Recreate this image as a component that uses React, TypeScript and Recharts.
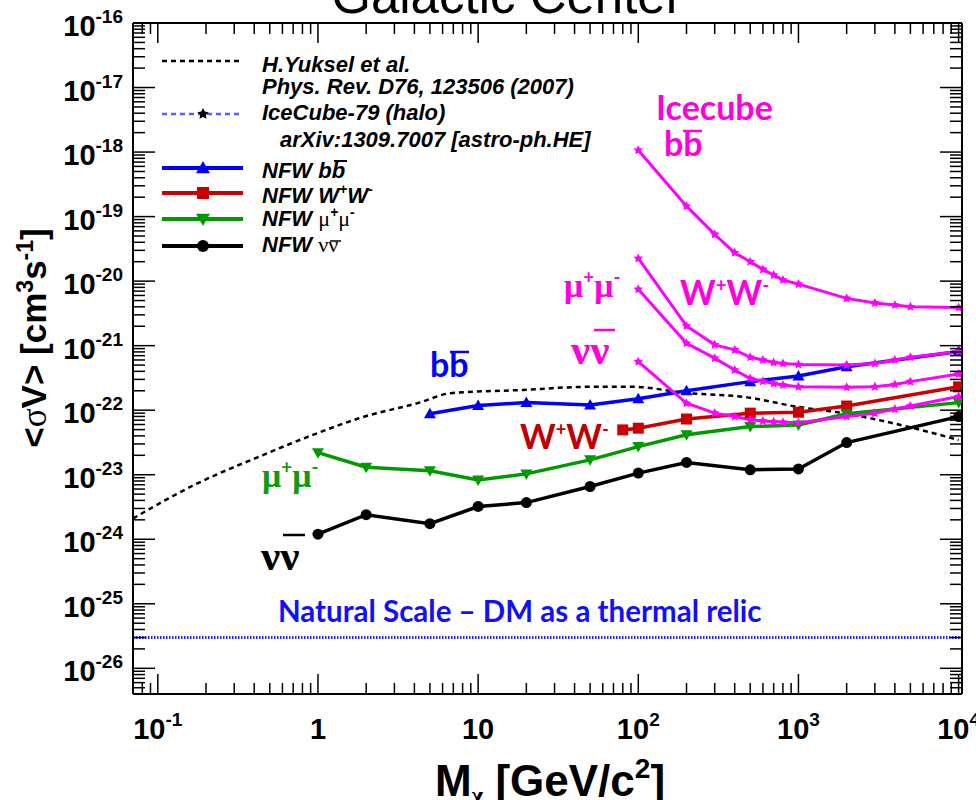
import React from "react";
import { LineChart, Line, XAxis, YAxis, ReferenceLine, Legend } from "recharts";

// dark matter mass (GeV/c^2) and <sigma v> upper limits (cm^3 s^-1)
const nfwBbMass = [5, 10, 20, 50, 100, 200, 500, 1000, 2000, 10000];
const nfwBbSigma = [8.8e-23, 1.18e-22, 1.31e-22, 1.2e-22, 1.5e-22, 2.0e-22, 2.77e-22, 3.4e-22, 4.7e-22, 8.1e-22];

const nfwWwMass = [80, 100, 200, 500, 1000, 2000, 10000];
const nfwWwSigma = [4.95e-23, 5.26e-23, 7.3e-23, 9.0e-23, 9.3e-23, 1.16e-22, 2.3e-22];

const nfwMuMass = [1, 2, 5, 10, 20, 50, 100, 200, 500, 1000, 2000, 10000];
const nfwMuSigma = [2.2e-23, 1.31e-23, 1.15e-23, 8.3e-24, 1.03e-23, 1.7e-23, 2.73e-23, 4.15e-23, 5.57e-23, 5.9e-23, 8.8e-23, 1.31e-22];

const nfwNuMass = [1, 2, 5, 10, 20, 50, 100, 200, 500, 1000, 2000, 10000];
const nfwNuSigma = [1.2e-24, 2.4e-24, 1.74e-24, 3.22e-24, 3.7e-24, 6.57e-24, 1.06e-23, 1.55e-23, 1.19e-23, 1.23e-23, 3.15e-23, 7.96e-23];

// IceCube-79 halo limits
const icMass = [100, 200, 300, 400, 500, 600, 700, 800, 1000, 2000, 3000, 4000, 5000, 10000];
const icBbSigma = [1.07e-18, 1.45e-19, 5.3e-20, 2.75e-20, 2.0e-20, 1.52e-20, 1.24e-20, 1.04e-20, 9.0e-21, 5.4e-21, 4.6e-21, 4.27e-21, 4.0e-21, 3.9e-21];
const icWwSigma = [2.25e-20, 2.02e-21, 1.03e-21, 8.6e-22, 6.6e-22, 6.0e-22, 5.5e-22, 5.3e-22, 5.1e-22, 5.0e-22, 5.3e-22, 6.0e-22, 6.6e-22, 8.1e-22];
const icMuSigma = [7.5e-21, 1.09e-21, 6.4e-22, 4.2e-22, 3.1e-22, 2.8e-22, 2.6e-22, 2.45e-22, 2.3e-22, 2.27e-22, 2.3e-22, 2.5e-22, 2.77e-22, 3.65e-22];
const icNuSigma = [5.65e-22, 1.28e-22, 9.0e-23, 7.96e-23, 7.1e-23, 6.8e-23, 6.6e-23, 6.5e-23, 6.4e-23, 8.0e-23, 9.0e-23, 1.04e-22, 1.16e-22, 1.63e-22];

// H. Yuksel et al. (2007)
const yukselMass = [0.07, 0.17, 0.45, 0.93, 1.9, 4.3, 6.7, 19, 48, 94, 190, 480, 960, 1900, 5800, 10000];
const yukselSigma = [2.1e-24, 7.0e-24, 2.0e-23, 4.15e-23, 7.8e-23, 1.31e-22, 1.83e-22, 2.06e-22, 2.3e-22, 2.3e-22, 1.87e-22, 1.58e-22, 1.14e-22, 9.0e-23, 4.95e-23, 3.45e-23];

// thermal relic cross section
const RELIC_SIGMA_V = 3e-26;

const xLabelValues = [0.1, 1, 10, 100, 1000, 10000];
const xLabelBase = ["10", "1", "10", "10", "10", "10"];
const xLabelExp = ["-1", "", "", "2", "3", "4"];

const yLabelValues = [1e-26, 1e-25, 1e-24, 1e-23, 1e-22, 1e-21, 1e-20, 1e-19, 1e-18, 1e-17, 1e-16];
const yLabelExp = ["-26", "-25", "-24", "-23", "-22", "-21", "-20", "-19", "-18", "-17", "-16"];

const X_DOMAIN: [number, number] = [0.07, 10500];
const Y_DOMAIN: [number, number] = [4e-27, 1e-16];

const FONT = "'Liberation Sans', Arial, Helvetica, sans-serif";
const NOTE_FONT = "Lato, 'Open Sans', sans-serif";
const GREEK = "'Liberation Serif', 'DejaVu Serif', serif";

const BLUE = "#0000ff";
const RED = "#cc0000";
const GREEN = "#009900";
const MAGENTA = "#ff00ff";

// log axis ticks: decades plus 2..9 sub-divisions
function logTicks(lo: number, hi: number) {
  const out: number[] = [];
  for (let d = Math.floor(Math.log10(lo)); d <= Math.ceil(Math.log10(hi)); d++) {
    for (let k = 1; k <= 9; k++) {
      const v = k * Math.pow(10, d);
      if (v >= lo * 0.999 && v <= hi * 1.001) out.push(v);
    }
  }
  return out;
}
const xTicks = logTicks(X_DOMAIN[0], X_DOMAIN[1]);
const yTicks = logTicks(5e-27, 1e-16);

const isDecade = (v: number) => {
  const l = Math.log10(v);
  return Math.abs(l - Math.round(l)) < 1e-6;
};

const points = (mass: number[], sigma: number[]) => mass.map((m, i) => ({ m, v: sigma[i] }));

type TickProps = { x?: number; y?: number; payload?: { value: number } };

const X_MAJOR = 20;
const X_MINOR = 11;
const Y_MAJOR = 22;
const Y_MINOR = 12;
const LABEL_SIZE = 29;
const EXP_SIZE = 19;

function BottomTick({ x = 0, y = 0, payload }: TickProps) {
  const v = payload ? payload.value : 1;
  const major = isDecade(v);
  const i = xLabelValues.findIndex((t) => Math.abs(Math.log10(t) - Math.log10(v)) < 1e-6);
  return (
    <g>
      <line x1={x} x2={x} y1={y} y2={y - (major ? X_MAJOR : X_MINOR)} stroke="#000" strokeWidth={1.5} />
      {i >= 0 && (
        <text x={x} y={y + 45} textAnchor="middle" fontFamily={FONT} fontWeight="bold" fontSize={LABEL_SIZE} fill="#000">
          {xLabelBase[i]}
          {xLabelExp[i] && (
            <tspan dy={-13} fontSize={EXP_SIZE}>
              {xLabelExp[i]}
            </tspan>
          )}
        </text>
      )}
    </g>
  );
}

function TopTick({ x = 0, y = 0, payload }: TickProps) {
  const major = isDecade(payload ? payload.value : 1);
  return <line x1={x} x2={x} y1={y} y2={y + (major ? X_MAJOR : X_MINOR)} stroke="#000" strokeWidth={1.5} />;
}

function LeftTick({ x = 0, y = 0, payload }: TickProps) {
  const v = payload ? payload.value : 1;
  const major = isDecade(v);
  const i = yLabelValues.findIndex((t) => Math.abs(Math.log10(t) - Math.log10(v)) < 1e-6);
  return (
    <g>
      <line x1={x} x2={x + (major ? Y_MAJOR : Y_MINOR)} y1={y} y2={y} stroke="#000" strokeWidth={1.5} />
      {i >= 0 && (
        <text x={x - 10} y={y + 13} textAnchor="end" fontFamily={FONT} fontWeight="bold" fontSize={LABEL_SIZE} fill="#000">
          10
          <tspan dy={-13} fontSize={EXP_SIZE}>
            {yLabelExp[i]}
          </tspan>
        </text>
      )}
    </g>
  );
}

function RightTick({ x = 0, y = 0, payload }: TickProps) {
  const major = isDecade(payload ? payload.value : 1);
  return <line x1={x} x2={x - (major ? Y_MAJOR : Y_MINOR)} y1={y} y2={y} stroke="#000" strokeWidth={1.5} />;
}

type Shape = "triUp" | "triDown" | "square" | "circle" | "star";

function markerPath(shape: Shape, cx: number, cy: number, s: number) {
  switch (shape) {
    case "triUp":
      return `M${cx},${cy - s}L${cx + s},${cy + s * 0.75}L${cx - s},${cy + s * 0.75}Z`;
    case "triDown":
      return `M${cx},${cy + s}L${cx + s},${cy - s * 0.75}L${cx - s},${cy - s * 0.75}Z`;
    case "square":
      return `M${cx - s},${cy - s}h${2 * s}v${2 * s}h${-2 * s}Z`;
    case "star": {
      let d = "";
      for (let k = 0; k < 10; k++) {
        const r = k % 2 === 0 ? s : s * 0.5;
        const a = -Math.PI / 2 + (k * Math.PI) / 5;
        d += `${k === 0 ? "M" : "L"}${cx + r * Math.cos(a)},${cy + r * Math.sin(a)}`;
      }
      return d + "Z";
    }
    default:
      return `M${cx - s},${cy}a${s},${s} 0 1,0 ${2 * s},0a${s},${s} 0 1,0 ${-2 * s},0`;
  }
}

function Marker({ shape, cx, cy, s, color }: { shape: Shape; cx: number; cy: number; s: number; color: string }) {
  return <path d={markerPath(shape, cx, cy, s)} fill={color} stroke="none" />;
}

const dotOf = (shape: Shape, color: string, s: number) => (p: { cx?: number; cy?: number; index?: number }) =>
  p.cx == null || p.cy == null ? (
    <g key={`e-${p.index}`} />
  ) : (
    <Marker key={`d-${p.index}`} shape={shape} cx={p.cx} cy={p.cy} s={s} color={color} />
  );

// bar drawn over a glyph (b-bar, nu-bar)
function Bar({ x1, x2, y, color, w = 2.5 }: { x1: number; x2: number; y: number; color: string; w?: number }) {
  return <line x1={x1} x2={x2} y1={y} y2={y} stroke={color} strokeWidth={w} />;
}

function LegendBox() {
  const x0 = 162;
  const x1 = 243;
  const xm = 203;
  const tx = 262;
  const greek = { fontFamily: GREEK, fontStyle: "normal", fontWeight: "normal" } as const;
  return (
    <svg width={660} height={270} style={{ display: "block" }}>
      <g fontFamily={FONT} fontWeight="bold" fontStyle="italic" fontSize={22} fill="#000">
        <line x1={x0} x2={x1} y1={61} y2={61} stroke="#000" strokeWidth={2.5} strokeDasharray="5 4" />
        <text x={tx} y={72}>H.Yuksel et al.</text>
        <text x={tx} y={94}>Phys. Rev. D76, 123506 (2007)</text>

        <line x1={x0} x2={x1} y1={114} y2={114} stroke="#5b5bff" strokeWidth={2.5} strokeDasharray="5 4" />
        <Marker shape="star" cx={xm} cy={114} s={6} color="#000" />
        <text x={tx} y={120}>IceCube-79 (halo)</text>
        <text x={280} y={147}>arXiv:1309.7007 [astro-ph.HE]</text>

        <line x1={x0} x2={x1} y1={168} y2={168} stroke={BLUE} strokeWidth={4} />
        <Marker shape="triUp" cx={xm} cy={168} s={7} color={BLUE} />
        <text x={tx} y={178}>NFW bb</text>
        <Bar x1={334} x2={347} y={161} color="#000" w={2} />

        <line x1={x0} x2={x1} y1={193} y2={193} stroke={RED} strokeWidth={4} />
        <Marker shape="square" cx={xm} cy={193} s={6} color={RED} />
        <text x={tx} y={203}>
          NFW W
          <tspan dy={-9} fontSize={14}>
            +
          </tspan>
          <tspan dy={9}>W</tspan>
          <tspan dy={-9} fontSize={14}>
            -
          </tspan>
        </text>

        <line x1={x0} x2={x1} y1={219} y2={219} stroke={GREEN} strokeWidth={4} />
        <Marker shape="triDown" cx={xm} cy={219} s={7} color={GREEN} />
        <text x={tx} y={226}>
          NFW <tspan {...greek}>μ</tspan>
          <tspan dy={-9} fontSize={14}>
            +
          </tspan>
          <tspan dy={9} {...greek}>
            μ
          </tspan>
          <tspan dy={-9} fontSize={14}>
            -
          </tspan>
        </text>

        <line x1={x0} x2={x1} y1={246} y2={246} stroke="#000" strokeWidth={4} />
        <Marker shape="circle" cx={xm} cy={246} s={6} color="#000" />
        <text x={tx} y={252}>
          NFW <tspan {...greek}>νν</tspan>
        </text>
        <Bar x1={330} x2={341} y={241} color="#000" w={1.5} />
      </g>
    </svg>
  );
}

function SupPair({ a, color, size, font, weight }: { a: string; color: string; size: number; font: string; weight?: string }) {
  const lift = size * 0.38;
  const small = size * 0.55;
  return (
    <>
      <tspan fontFamily={font} fontWeight={weight}>
        {a}
      </tspan>
      <tspan dy={-lift} fontSize={small} fill={color}>
        +
      </tspan>
      <tspan dy={lift} fontFamily={font} fontWeight={weight}>
        {a}
      </tspan>
      <tspan dy={-lift} fontSize={small} fill={color}>
        -
      </tspan>
    </>
  );
}

function Annotations() {
  const pink = "#ff00dd";
  return (
    <svg width={976} height={800} style={{ position: "absolute", left: 0, top: 0, pointerEvents: "none" }}>
      <text x={507} y={13} textAnchor="middle" fontFamily={FONT} fontSize={51} fill="#000">
        Galactic Center
      </text>

      <text
        transform="translate(46,338) rotate(-90)"
        textAnchor="middle"
        fontFamily={FONT}
        fontWeight="bold"
        fontSize={35}
        fill="#000"
      >
        &lt;<tspan fontFamily={GREEK} fontWeight="normal">σ</tspan>V&gt; [cm
        <tspan dy={-13} fontSize={23}>
          3
        </tspan>
        <tspan dy={13}>s</tspan>
        <tspan dy={-13} fontSize={23}>
          -1
        </tspan>
        <tspan dy={13}>]</tspan>
      </text>

      <text x={550} y={796} textAnchor="middle" fontFamily={FONT} fontWeight="bold" fontSize={44} fill="#000">
        M
        <tspan dy={8} fontSize={25} fontFamily={GREEK}>
          χ
        </tspan>
        <tspan dy={-8}> [GeV/c</tspan>
        <tspan dy={-18} fontSize={28}>
          2
        </tspan>
        <tspan dy={18}>]</tspan>
      </text>

      <g fontFamily={NOTE_FONT} fontWeight="bold" fontSize={34}>
        <text x={656} y={120} fill={pink}>
          Icecube
        </text>
        <text x={664} y={156} fill={pink}>
          bb
        </text>
        <Bar x1={683} x2={702} y={131} color={pink} />
        <text x={680} y={305} fill={pink}>
          <SupPair a="W" color={pink} size={34} font={NOTE_FONT} />
        </text>
        <text x={564} y={297} fill={pink}>
          <SupPair a="μ" color={pink} size={34} font={GREEK} weight="bold" />
        </text>
        <text x={571} y={364} fill={pink} fontFamily={GREEK} fontSize={43}>
          νν
        </text>
        <Bar x1={594} x2={615} y={330} color={pink} />

        <text x={430} y={377} fill={BLUE}>
          bb
        </text>
        <Bar x1={450} x2={469} y={352} color={BLUE} />
        <text x={520} y={449} fill="#c00000">
          <SupPair a="W" color="#c00000" size={33} font={NOTE_FONT} />
        </text>
        <text x={262} y={487} fill="#119911">
          <SupPair a="μ" color="#119911" size={34} font={GREEK} weight="bold" />
        </text>
        <text x={261} y={570} fill="#000" fontFamily={GREEK} fontSize={43}>
          νν
        </text>
        <Bar x1={283} x2={305} y={535} color="#000" />

        <text x={278} y={622} fill="#1010ff" fontSize={29.5}>
          Natural Scale – DM as a thermal relic
        </text>
      </g>
    </svg>
  );
}

const frame = { stroke: "#000", strokeWidth: 2 };

export default function App() {
  return (
    <div style={{ position: "absolute", left: 0, top: 0, width: 976, height: 800, background: "#fff" }}>
      <LineChart width={976} height={800} margin={{ top: 22, right: 13, bottom: 105, left: 132 }}>
        <XAxis
          type="number"
          dataKey="m"
          scale="log"
          domain={X_DOMAIN}
          allowDataOverflow
          ticks={xTicks}
          interval={0}
          height={1}
          tickSize={0}
          tickMargin={0}
          tickLine={false}
          axisLine={frame}
          tick={<BottomTick />}
        />
        <XAxis
          xAxisId="top"
          orientation="top"
          type="number"
          dataKey="m"
          scale="log"
          domain={X_DOMAIN}
          allowDataOverflow
          ticks={xTicks}
          interval={0}
          height={1}
          tickSize={0}
          tickMargin={0}
          tickLine={false}
          axisLine={frame}
          tick={<TopTick />}
        />
        <YAxis
          type="number"
          scale="log"
          domain={Y_DOMAIN}
          allowDataOverflow
          ticks={yTicks}
          interval={0}
          width={1}
          tickSize={0}
          tickMargin={0}
          tickLine={false}
          axisLine={frame}
          tick={<LeftTick />}
        />
        <YAxis
          yAxisId="right"
          orientation="right"
          type="number"
          scale="log"
          domain={Y_DOMAIN}
          allowDataOverflow
          ticks={yTicks}
          interval={0}
          width={1}
          tickSize={0}
          tickMargin={0}
          tickLine={false}
          axisLine={frame}
          tick={<RightTick />}
        />

        <ReferenceLine y={RELIC_SIGMA_V} stroke="#1f1fff" strokeWidth={3} strokeDasharray="1.5 1.5" />

        <Line
          data={points(yukselMass, yukselSigma)}
          dataKey="v"
          type="monotone"
          stroke="#000"
          strokeWidth={2.5}
          strokeDasharray="5 4"
          dot={false}
          isAnimationActive={false}
        />

        <Line data={points(nfwBbMass, nfwBbSigma)} dataKey="v" type="linear" stroke={BLUE} strokeWidth={3.5} dot={dotOf("triUp", BLUE, 6)} isAnimationActive={false} />
        <Line data={points(nfwWwMass, nfwWwSigma)} dataKey="v" type="linear" stroke={RED} strokeWidth={3.5} dot={dotOf("square", RED, 5.5)} isAnimationActive={false} />
        <Line data={points(nfwMuMass, nfwMuSigma)} dataKey="v" type="linear" stroke={GREEN} strokeWidth={3.5} dot={dotOf("triDown", GREEN, 6)} isAnimationActive={false} />
        <Line data={points(nfwNuMass, nfwNuSigma)} dataKey="v" type="linear" stroke="#000" strokeWidth={3.5} dot={dotOf("circle", "#000", 5.5)} isAnimationActive={false} />

        <Line data={points(icMass, icBbSigma)} dataKey="v" type="linear" stroke={MAGENTA} strokeWidth={3} dot={dotOf("star", MAGENTA, 5)} isAnimationActive={false} />
        <Line data={points(icMass, icWwSigma)} dataKey="v" type="linear" stroke={MAGENTA} strokeWidth={3} dot={dotOf("star", MAGENTA, 5)} isAnimationActive={false} />
        <Line data={points(icMass, icMuSigma)} dataKey="v" type="linear" stroke={MAGENTA} strokeWidth={3} dot={dotOf("star", MAGENTA, 5)} isAnimationActive={false} />
        <Line data={points(icMass, icNuSigma)} dataKey="v" type="linear" stroke={MAGENTA} strokeWidth={3} dot={dotOf("star", MAGENTA, 5)} isAnimationActive={false} />

        <Legend
          layout="vertical"
          align="center"
          verticalAlign="middle"
          wrapperStyle={{ left: 0, top: 0, width: 660, height: 270 }}
          content={() => <LegendBox />}
        />
      </LineChart>
      <Annotations />
    </div>
  );
}
